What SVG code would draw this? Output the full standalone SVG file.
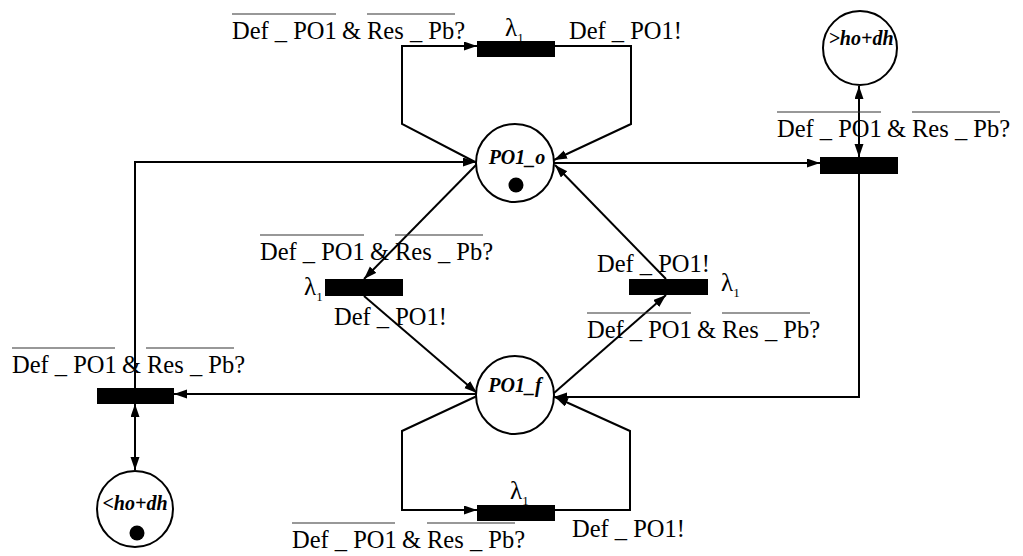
<svg xmlns="http://www.w3.org/2000/svg" width="1023" height="556" viewBox="0 0 1023 556">
<style>
.bg{fill:#fff}
.place{fill:#fff;stroke:#000;stroke-width:2}
.tok{fill:#000}
.tr{fill:#000}
.arc{fill:none;stroke:#000;stroke-width:2;stroke-linejoin:miter}
.pl{font-family:"Liberation Serif","Times New Roman",serif;font-weight:bold;font-style:italic;font-size:20px;text-anchor:middle;fill:#000}
.lb{font-family:"Liberation Serif","Times New Roman",serif;font-size:24.5px;fill:#000}
.lam{font-family:"Liberation Serif","Times New Roman",serif;font-size:25px;fill:#000}
.sub{font-size:13px}
.ov{stroke:#333;stroke-width:1.2}
</style>
<defs>
<marker id="ah" markerUnits="userSpaceOnUse" markerWidth="14" markerHeight="10" refX="13" refY="4.5" orient="auto-start-reverse">
<path d="M0,0 L13,4.5 L0,9 z" fill="#000"/>
</marker>
</defs>
<rect class="bg" x="0" y="0" width="1023" height="556"/>

<g id="connectors">
<path class="arc" d="M477,163 L402,124 L402,46 L477,46" marker-end="url(#ah)"/>
<path class="arc" d="M555,46 L631,46 L631,124 L554,160" marker-end="url(#ah)"/>
<path class="arc" d="M554,163 L820,163" marker-end="url(#ah)"/>
<path class="arc" d="M859,86 L859,157" marker-start="url(#ah)" marker-end="url(#ah)"/>
<path class="arc" d="M859,174 L859,397 L554,397" marker-end="url(#ah)"/>
<path class="arc" d="M477,164 L364,279" marker-end="url(#ah)"/>
<path class="arc" d="M364,296 L477,393" marker-end="url(#ah)"/>
<path class="arc" d="M554,393 L666,295" marker-end="url(#ah)"/>
<path class="arc" d="M666,279 L555,165" marker-end="url(#ah)"/>
<path class="arc" d="M476,394 L174,394" marker-end="url(#ah)"/>
<path class="arc" d="M135,388 L135,162 L476,162" marker-end="url(#ah)"/>
<path class="arc" d="M135,404 L135,470" marker-start="url(#ah)" marker-end="url(#ah)"/>
<path class="arc" d="M477,396 L402,431 L402,510 L477,510" marker-end="url(#ah)"/>
<path class="arc" d="M555,510 L630,510 L630,431 L555,397" marker-end="url(#ah)"/>
</g>

<g id="PO1_o">
<circle class="place" cx="515" cy="163" r="39"/>
<text class="pl" x="517" y="164">PO1_o</text>
<circle class="tok" cx="516" cy="185" r="7.5"/>
</g>
<g id="PO1_f">
<circle class="place" cx="515" cy="395" r="39"/>
<text class="pl" x="515" y="392">PO1_f</text>
</g>
<g id="P_gt">
<circle class="place" cx="860" cy="48" r="37"/>
<text class="pl" x="861" y="45">&gt;ho+dh</text>
</g>
<g id="P_lt">
<circle class="place" cx="135" cy="509" r="38"/>
<text class="pl" x="135" y="510">&lt;ho+dh</text>
<circle class="tok" cx="137" cy="533" r="7.5"/>
</g>

<g id="T_top">
<rect class="tr" x="477" y="41" width="78" height="16"/>
<text class="lam" x="505" y="36">λ<tspan class="sub" dy="6">1</tspan></text>
<text class="lb" x="232" y="39">Def _ PO1<tspan x="342">&amp;</tspan><tspan x="367">Res _ Pb?</tspan></text>
<line class="ov" x1="232" y1="14" x2="336" y2="14"/>
<line class="ov" x1="367" y1="14" x2="455" y2="14"/>
<text class="lb" x="569" y="39">Def _ PO1!</text>
</g>

<g id="T_right">
<rect class="tr" x="820" y="157" width="78" height="17"/>
<text class="lb" x="777" y="137">Def _ PO1<tspan x="887">&amp;</tspan><tspan x="912">Res _ Pb?</tspan></text>
<line class="ov" x1="777" y1="112" x2="881" y2="112"/>
<line class="ov" x1="912" y1="112" x2="1000" y2="112"/>
</g>

<g id="T_midL">
<rect class="tr" x="325" y="279" width="78" height="17"/>
<text class="lam" x="304" y="295">λ<tspan class="sub" dy="6">1</tspan></text>
<text class="lb" x="260" y="260">Def _ PO1<tspan x="370">&amp;</tspan><tspan x="395">Res _ Pb?</tspan></text>
<line class="ov" x1="260" y1="235" x2="364" y2="235"/>
<line class="ov" x1="395" y1="235" x2="483" y2="235"/>
<text class="lb" x="334" y="325">Def _ PO1!</text>
</g>

<g id="T_midR">
<rect class="tr" x="629" y="279" width="79" height="16"/>
<text class="lam" x="721" y="291">λ<tspan class="sub" dy="6">1</tspan></text>
<text class="lb" x="597" y="272">Def _ PO1!</text>
<text class="lb" x="587" y="338">Def _ PO1<tspan x="697">&amp;</tspan><tspan x="722">Res _ Pb?</tspan></text>
<line class="ov" x1="587" y1="313" x2="691" y2="313"/>
<line class="ov" x1="722" y1="313" x2="810" y2="313"/>
</g>

<g id="T_left">
<rect class="tr" x="97" y="388" width="77" height="16"/>
<text class="lb" x="12" y="373">Def _ PO1<tspan x="122">&amp;</tspan><tspan x="147">Res _ Pb?</tspan></text>
<line class="ov" x1="12" y1="348" x2="115" y2="348"/>
<line class="ov" x1="146" y1="348" x2="234" y2="348"/>
</g>

<g id="T_bot">
<rect class="tr" x="477" y="505" width="78" height="16"/>
<text class="lam" x="510" y="499">λ<tspan class="sub" dy="6">1</tspan></text>
<text class="lb" x="292" y="548">Def _ PO1<tspan x="402">&amp;</tspan><tspan x="427">Res _ Pb?</tspan></text>
<line class="ov" x1="292" y1="523" x2="395" y2="523"/>
<line class="ov" x1="427" y1="523" x2="515" y2="523"/>
<text class="lb" x="572" y="537">Def _ PO1!</text>
</g>
</svg>
